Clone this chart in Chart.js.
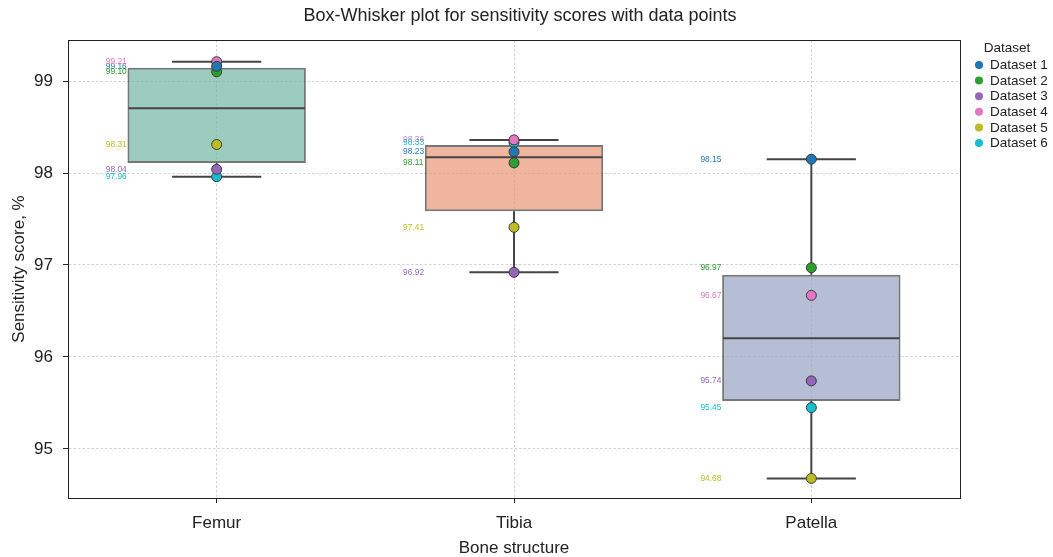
<!DOCTYPE html>
<html>
<head>
<meta charset="utf-8">
<title>Sensitivity scores by bone structure</title>
<script src="https://cdn.jsdelivr.net/npm/chart.js@4.4.1/dist/chart.umd.min.js"></script>
<style>
  html, body { margin: 0; padding: 0; background: #ffffff; }
  #wrap { width: 1053px; height: 557px; }
</style>
</head>
<body>
<div id="wrap"><canvas id="chart" width="1053" height="557"></canvas></div>
<script>
// Categories on the x axis
const categories = ['Femur', 'Tibia', 'Patella'];

// Sensitivity scores per dataset (Femur, Tibia, Patella)
const datasetNames = ['Dataset 1', 'Dataset 2', 'Dataset 3', 'Dataset 4', 'Dataset 5', 'Dataset 6'];
const dataset1 = [99.16, 98.23, 98.15];
const dataset2 = [99.10, 98.11, 96.97];
const dataset3 = [98.04, 96.92, 95.74];
const dataset4 = [99.21, 98.36, 96.67];
const dataset5 = [98.31, 97.41, 94.68];
const dataset6 = [97.96, 98.33, 95.45];

// Y axis ticks and range
const yTicks = [95, 96, 97, 98, 99];
const yMin = 94.467;
const yMax = 99.446;

// Colours
const pointColors = ['#1f77b4', '#2ca02c', '#9467bd', '#e377c2', '#bcbd22', '#17becf'];
const boxColors = ['rgba(114,183,161,0.7)', 'rgba(233,149,117,0.7)', 'rgba(149,163,195,0.7)'];

const FONT = "'Liberation Sans', Arial, Helvetica, sans-serif";
const allSeries = [dataset1, dataset2, dataset3, dataset4, dataset5, dataset6];

// Quartiles with linear interpolation, whiskers at 1.5 IQR
function quantile(sorted, p) {
  const pos = (sorted.length - 1) * p;
  const lo = Math.floor(pos), hi = Math.ceil(pos);
  return sorted[lo] + (sorted[hi] - sorted[lo]) * (pos - lo);
}
const boxStats = categories.map((c, i) => {
  const vals = allSeries.map(s => s[i]).sort((a, b) => a - b);
  const q1 = quantile(vals, 0.25), med = quantile(vals, 0.5), q3 = quantile(vals, 0.75);
  const iqr = q3 - q1;
  const lo = Math.min(...vals.filter(v => v >= q1 - 1.5 * iqr));
  const hi = Math.max(...vals.filter(v => v <= q3 + 1.5 * iqr));
  return { q1, med, q3, lo, hi };
});

// Whiskers, caps and median lines drawn right after the boxes
const whiskerPlugin = {
  id: 'whiskers',
  afterDatasetDraw(chart, args) {
    if (args.index !== 0) return;
    const ctx = chart.ctx, y = chart.scales.y;
    const meta = chart.getDatasetMeta(0);
    ctx.save();
    ctx.strokeStyle = '#454545';
    ctx.lineWidth = 2;
    meta.data.forEach((bar, i) => {
      const s = boxStats[i];
      const cx = bar.x, w = bar.width;
      ctx.beginPath();
      ctx.moveTo(cx, y.getPixelForValue(s.q1)); ctx.lineTo(cx, y.getPixelForValue(s.lo));
      ctx.moveTo(cx, y.getPixelForValue(s.q3)); ctx.lineTo(cx, y.getPixelForValue(s.hi));
      ctx.moveTo(cx - w / 4, y.getPixelForValue(s.lo)); ctx.lineTo(cx + w / 4, y.getPixelForValue(s.lo));
      ctx.moveTo(cx - w / 4, y.getPixelForValue(s.hi)); ctx.lineTo(cx + w / 4, y.getPixelForValue(s.hi));
      ctx.moveTo(cx - w / 2 + 1, y.getPixelForValue(s.med)); ctx.lineTo(cx + w / 2 - 1, y.getPixelForValue(s.med));
      ctx.stroke();
    });
    ctx.restore();
  }
};

// Value labels to the left of each box
const valueLabelPlugin = {
  id: 'valueLabels',
  afterDatasetsDraw(chart) {
    const ctx = chart.ctx, x = chart.scales.x, y = chart.scales.y;
    const step = (chart.chartArea.right - chart.chartArea.left) / categories.length;
    ctx.save();
    ctx.font = '8.4px ' + FONT;
    ctx.textAlign = 'left';
    ctx.textBaseline = 'middle';
    allSeries.forEach((series, d) => {
      ctx.fillStyle = pointColors[d];
      series.forEach((v, i) => {
        ctx.fillText(v.toFixed(2), x.getPixelForValue(i) - 0.373 * step, y.getPixelForValue(v));
      });
    });
    ctx.restore();
  }
};

// Frame, title and legend
const decorPlugin = {
  id: 'decor',
  afterDraw(chart) {
    const ctx = chart.ctx, a = chart.chartArea;
    ctx.save();
    ctx.strokeStyle = '#222';
    ctx.lineWidth = 1;
    ctx.strokeRect(Math.round(a.left) + 0.5, Math.round(a.top) + 0.5, Math.round(a.right - a.left), Math.round(a.bottom - a.top));

    ctx.fillStyle = '#222';
    ctx.font = '18px ' + FONT;
    ctx.textAlign = 'center';
    ctx.textBaseline = 'middle';
    ctx.fillText('Box-Whisker plot for sensitivity scores with data points', 520, 16);

    const lx = a.right + 19, ly = 48;
    ctx.font = '13.5px ' + FONT;
    ctx.fillText('Dataset', 1007, ly);
    ctx.textAlign = 'left';
    datasetNames.forEach((name, d) => {
      const yy = 65 + d * 15.6;
      ctx.beginPath();
      ctx.arc(lx, yy, 4, 0, Math.PI * 2);
      ctx.fillStyle = pointColors[d];
      ctx.fill();
      ctx.fillStyle = '#222';
      ctx.fillText(name, lx + 11, yy + 0.5);
    });
    ctx.restore();
  }
};

const pointDatasets = allSeries.map((series, d) => ({
  type: 'line',
  label: datasetNames[d],
  data: series,
  showLine: false,
  pointRadius: 5,
  pointHoverRadius: 5,
  pointBackgroundColor: pointColors[d],
  pointBorderColor: '#3a3a3a',
  pointBorderWidth: 1,
  order: 1
}));

const gridOpts = {
  color: '#c8c8c8',
  lineWidth: 0.8,
  tickColor: '#222',
  tickLength: 5,
  tickBorderDash: [],
  tickWidth: 1
};

new Chart(document.getElementById('chart'), {
  type: 'bar',
  data: {
    labels: categories,
    datasets: [{
      label: 'Box',
      data: boxStats.map(s => [s.q1, s.q3]),
      backgroundColor: boxColors,
      borderColor: 'rgba(61,61,61,0.7)',
      borderWidth: 2,
      borderSkipped: false,
      categoryPercentage: 0.6,
      barPercentage: 1.0,
      order: 10
    }, ...pointDatasets]
  },
  options: {
    responsive: false,
    animation: false,
    layout: { padding: { left: 0, right: 93, top: 40, bottom: 0 } },
    plugins: {
      legend: { display: false },
      title: { display: false },
      tooltip: { enabled: false }
    },
    scales: {
      x: {
        type: 'category',
        offset: true,
        grid: Object.assign({ offset: false }, gridOpts),
        border: { display: true, color: '#222', width: 1, dash: [2.5, 2] },
        ticks: { color: '#222', font: { family: FONT, size: 17 }, padding: 10, maxRotation: 0 },
        title: { display: true, text: 'Bone structure', color: '#222', font: { family: FONT, size: 17 }, padding: { top: 0, bottom: -2 } },
        afterFit(scale) { scale.height = 59; }
      },
      y: {
        type: 'linear',
        min: yMin,
        max: yMax,
        afterBuildTicks(scale) { scale.ticks = yTicks.map(v => ({ value: v })); },
        grid: Object.assign({}, gridOpts),
        border: { display: true, color: '#222', width: 1, dash: [2.5, 2] },
        ticks: { color: '#222', font: { family: FONT, size: 17 }, padding: 10 },
        title: { display: true, text: 'Sensitivity score, %', color: '#222', font: { family: FONT, size: 17 }, padding: { top: 9, bottom: 0 } },
        afterFit(scale) { scale.width = 68; }
      }
    }
  },
  plugins: [whiskerPlugin, valueLabelPlugin, decorPlugin]
});
</script>
</body>
</html>
